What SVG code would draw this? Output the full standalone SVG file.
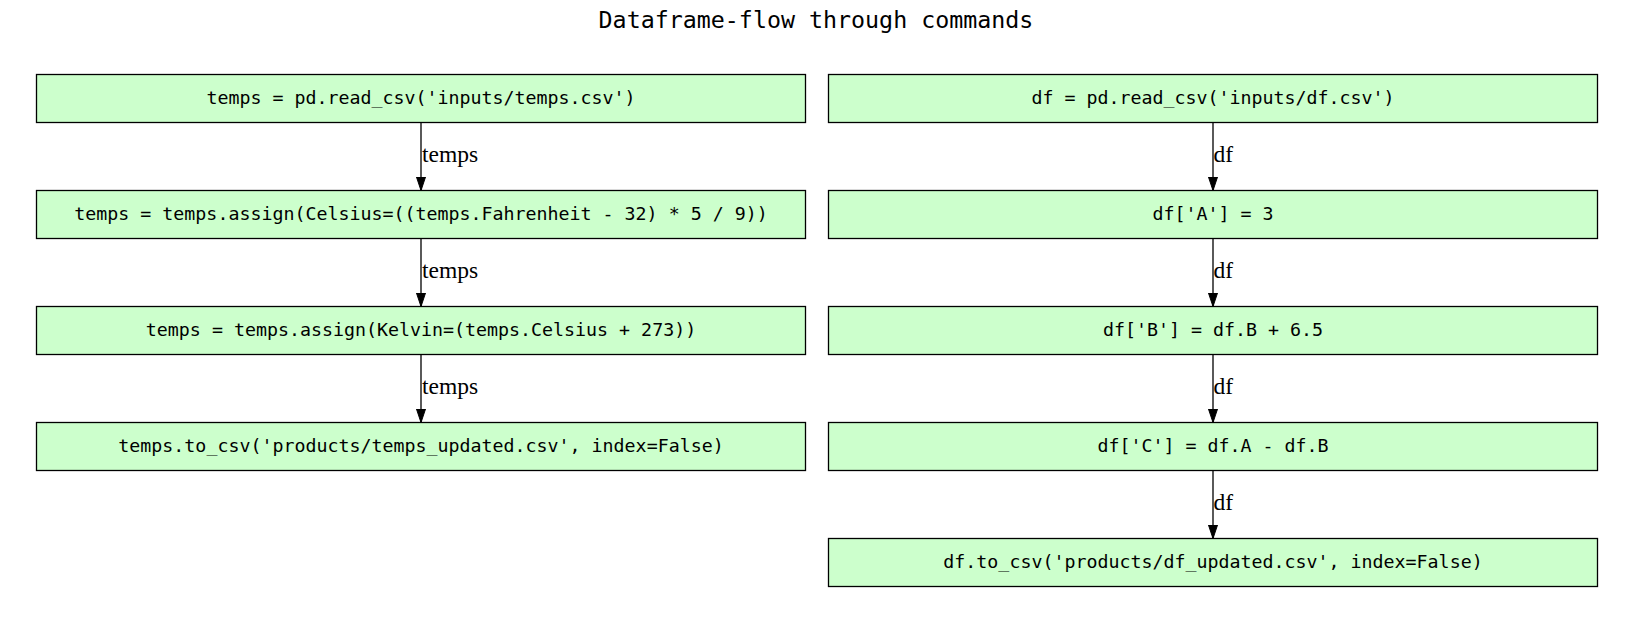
<svg xmlns="http://www.w3.org/2000/svg" width="1635" height="624" viewBox="0 0 1635 624">
<defs>
<style>
.node rect{fill:#ccffcc;stroke:#000;stroke-width:1.3}
.node text{font-family:"DejaVu Sans Mono",monospace;font-size:18.3px;text-anchor:middle;fill:#000}
.edge line{stroke:#000;stroke-width:1.3}
.edge text{font-family:"Liberation Serif","Times New Roman",serif;font-size:23.5px;fill:#000}
.title{font-family:"DejaVu Sans Mono",monospace;font-size:23.3px;text-anchor:middle;fill:#000}
</style>
<marker id="arr" viewBox="0 0 14 10" refX="14" refY="5" markerWidth="14" markerHeight="10" markerUnits="userSpaceOnUse" orient="auto">
<path d="M0,0.3 L14,5 L0,9.7 Z" fill="#000" stroke="#000" stroke-width="1"/>
</marker>
</defs>
<rect width="1635" height="624" fill="#fff"/>
<text class="title" x="816" y="28">Dataframe-flow through commands</text>

<g id="connectors" class="edge">
<line x1="421" y1="122.5" x2="421" y2="190.5" marker-end="url(#arr)"/>
<text x="422" y="162">temps</text>
<line x1="421" y1="238.5" x2="421" y2="306.5" marker-end="url(#arr)"/>
<text x="422" y="278">temps</text>
<line x1="421" y1="354.5" x2="421" y2="422.5" marker-end="url(#arr)"/>
<text x="422" y="394">temps</text>
<line x1="1213" y1="122.5" x2="1213" y2="190.5" marker-end="url(#arr)"/>
<text x="1213.5" y="162">df</text>
<line x1="1213" y1="238.5" x2="1213" y2="306.5" marker-end="url(#arr)"/>
<text x="1213.5" y="278">df</text>
<line x1="1213" y1="354.5" x2="1213" y2="422.5" marker-end="url(#arr)"/>
<text x="1213.5" y="394">df</text>
<line x1="1213" y1="470.5" x2="1213" y2="538.5" marker-end="url(#arr)"/>
<text x="1213.5" y="510">df</text>
</g>

<g id="temps_read" class="node"><rect x="36.5" y="74.5" width="769" height="48"/><text x="421" y="104.3">temps = pd.read_csv('inputs/temps.csv')</text></g>
<g id="temps_celsius" class="node"><rect x="36.5" y="190.5" width="769" height="48"/><text x="421" y="220.3">temps = temps.assign(Celsius=((temps.Fahrenheit - 32) * 5 / 9))</text></g>
<g id="temps_kelvin" class="node"><rect x="36.5" y="306.5" width="769" height="48"/><text x="421" y="336.3">temps = temps.assign(Kelvin=(temps.Celsius + 273))</text></g>
<g id="temps_write" class="node"><rect x="36.5" y="422.5" width="769" height="48"/><text x="421" y="452.3">temps.to_csv('products/temps_updated.csv', index=False)</text></g>

<g id="df_read" class="node"><rect x="828.5" y="74.5" width="769" height="48"/><text x="1213" y="104.3">df = pd.read_csv('inputs/df.csv')</text></g>
<g id="df_a" class="node"><rect x="828.5" y="190.5" width="769" height="48"/><text x="1213" y="220.3">df['A'] = 3</text></g>
<g id="df_b" class="node"><rect x="828.5" y="306.5" width="769" height="48"/><text x="1213" y="336.3">df['B'] = df.B + 6.5</text></g>
<g id="df_c" class="node"><rect x="828.5" y="422.5" width="769" height="48"/><text x="1213" y="452.3">df['C'] = df.A - df.B</text></g>
<g id="df_write" class="node"><rect x="828.5" y="538.5" width="769" height="48"/><text x="1213" y="568.3">df.to_csv('products/df_updated.csv', index=False)</text></g>
</svg>
